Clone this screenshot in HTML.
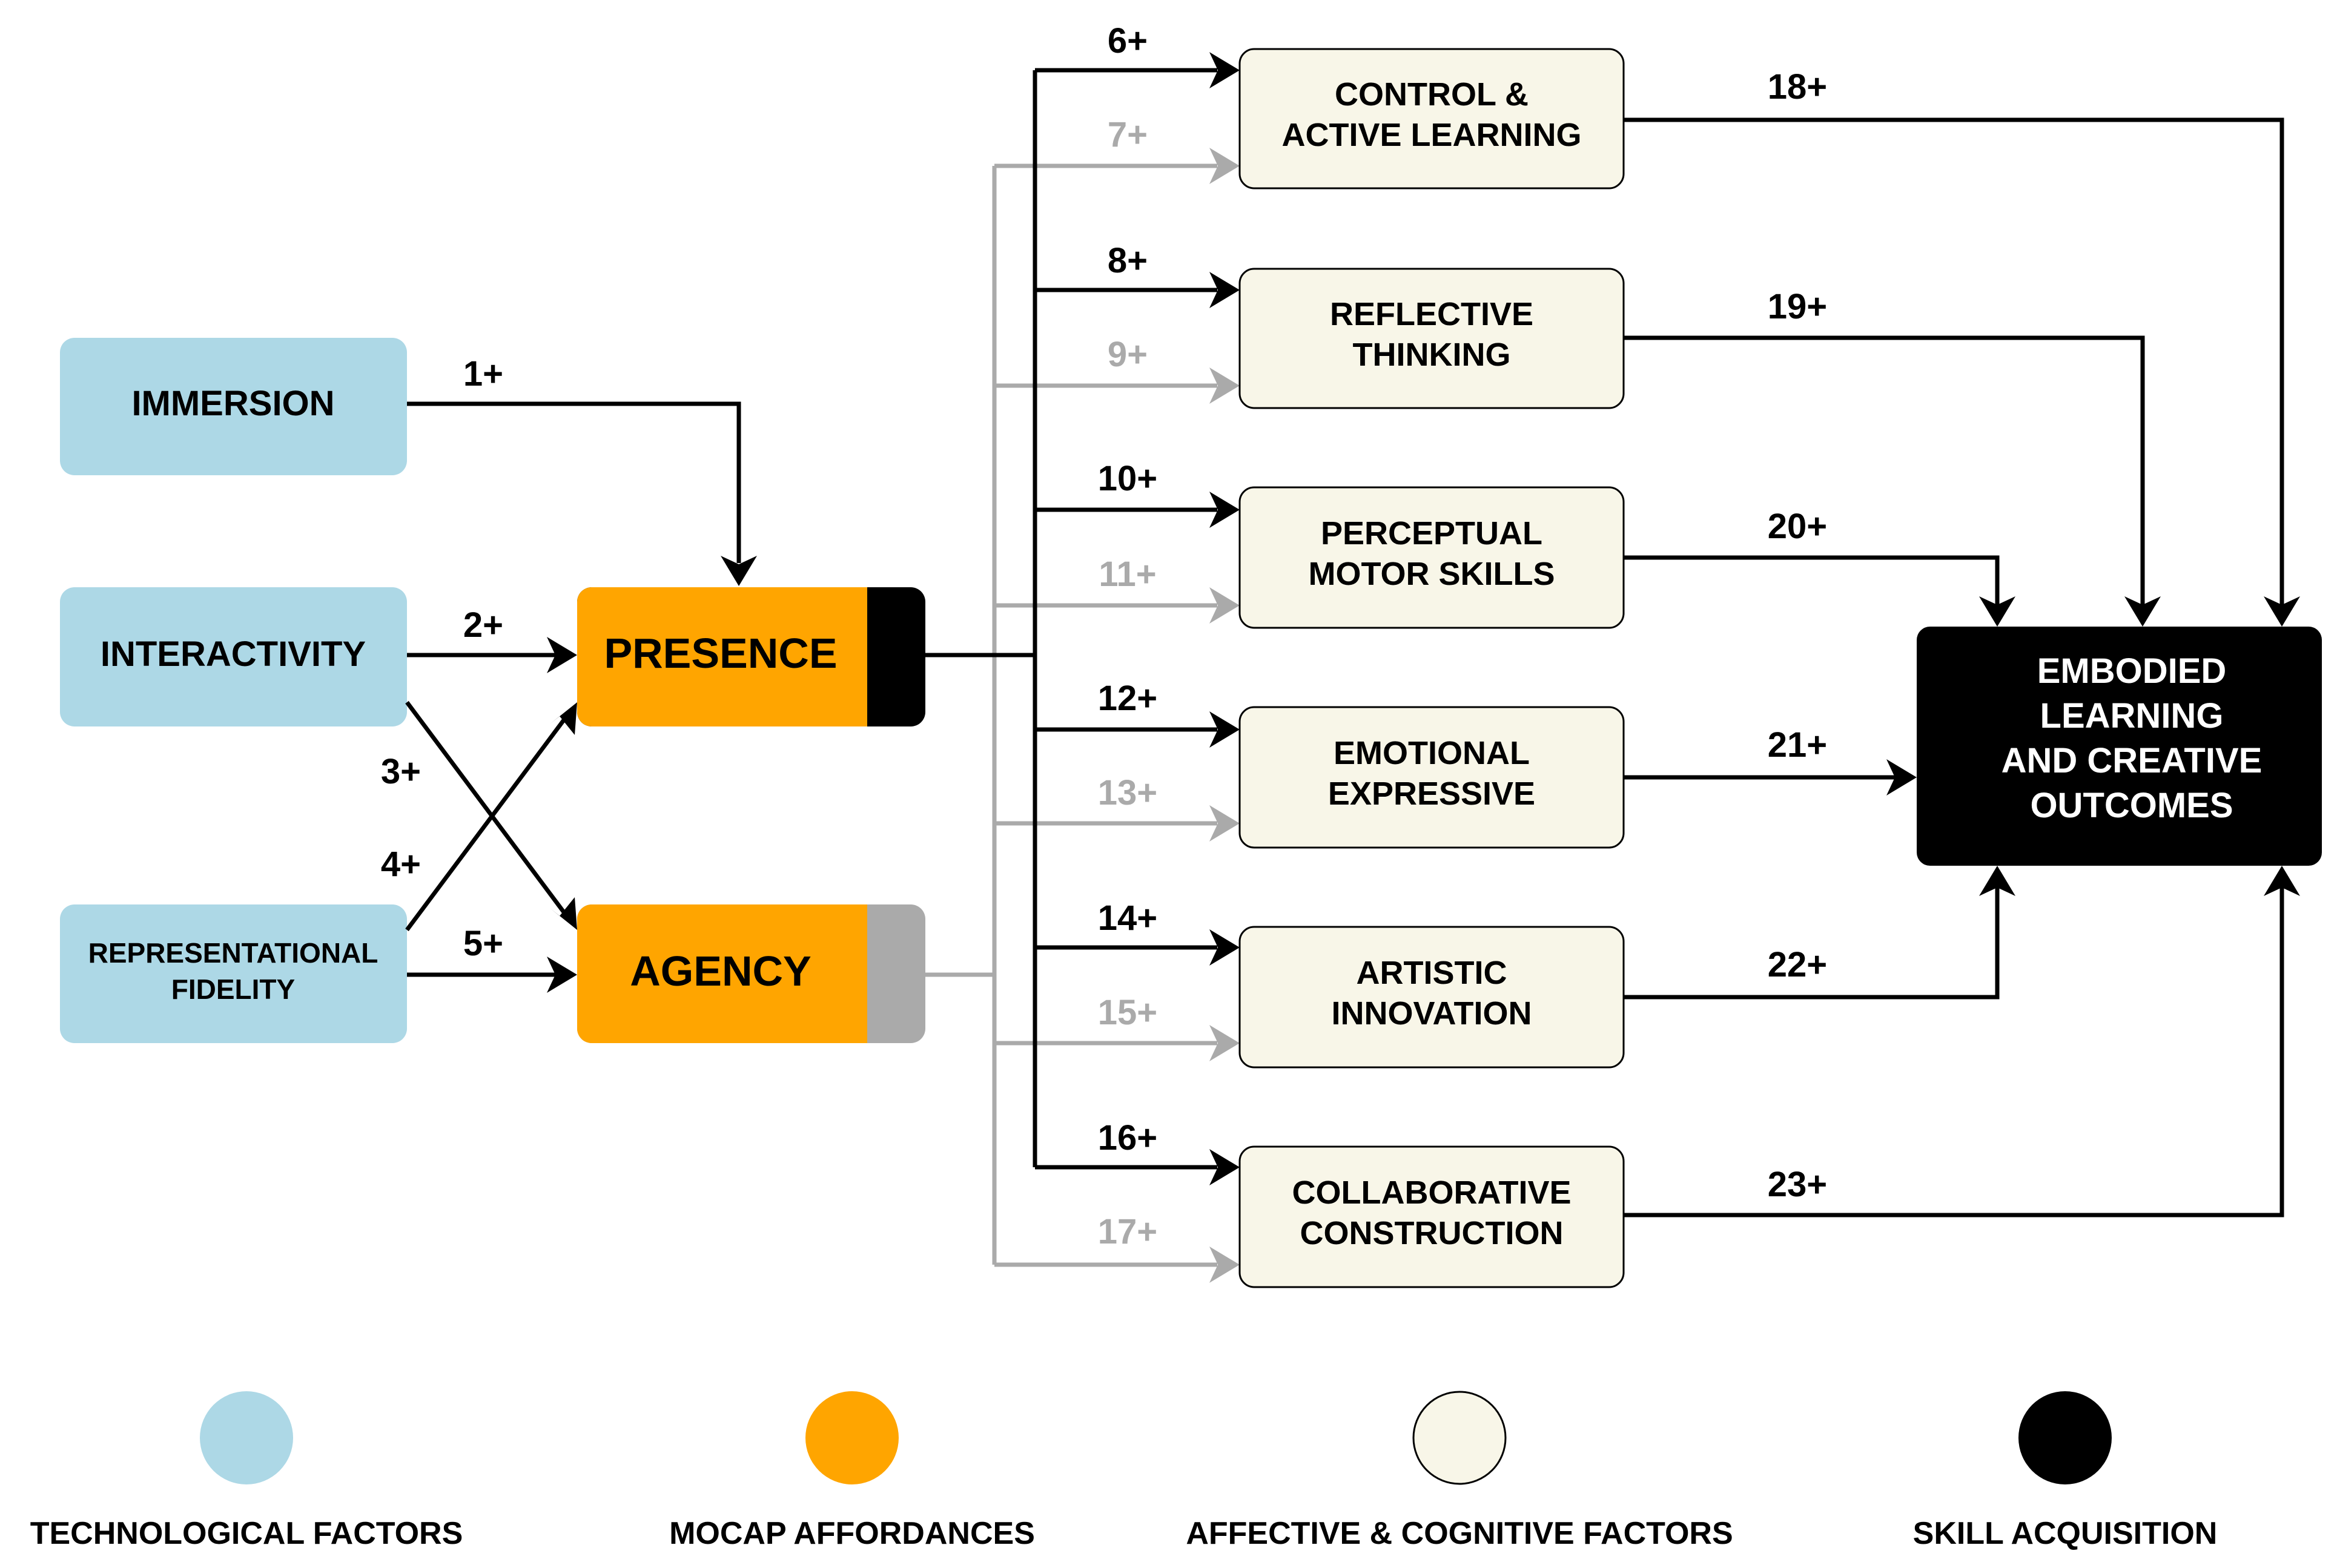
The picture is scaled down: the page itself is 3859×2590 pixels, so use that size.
<!DOCTYPE html>
<html><head><meta charset="utf-8"><style>
html,body{margin:0;padding:0;background:#fff;}
svg{display:block;}
text{font-family:"Liberation Sans",Arial,sans-serif;font-weight:bold;}
</style></head><body>
<svg width="3859" height="2590" viewBox="0 0 3859 2590" xmlns="http://www.w3.org/2000/svg">
<defs>
<marker id="ab" markerWidth="10" markerHeight="10" refX="9" refY="5" orient="auto" markerUnits="userSpaceOnUse" viewBox="0 0 10 10" style="overflow:visible">
</marker>
</defs>
<g id="arrowdefs"></g>
<!-- left boxes -->
<rect x="99" y="558" width="573" height="227" rx="24" fill="#add8e6"/>
<rect x="99" y="970" width="573" height="230" rx="24" fill="#add8e6"/>
<rect x="99" y="1494" width="573" height="229" rx="24" fill="#add8e6"/>
<text x="385" y="686" font-size="58" text-anchor="middle">IMMERSION</text>
<text x="385" y="1100" font-size="58" text-anchor="middle">INTERACTIVITY</text>
<text x="385" y="1590" font-size="46" text-anchor="middle">REPRESENTATIONAL</text>
<text x="385" y="1650" font-size="46" text-anchor="middle">FIDELITY</text>
<!-- presence / agency -->
<rect x="953" y="970" width="575" height="230" rx="24" fill="#000"/>
<rect x="953" y="970" width="479" height="230" rx="24" fill="#ffa500"/>
<rect x="1400" y="970" width="32" height="230" fill="#ffa500"/>
<rect x="953" y="1494" width="575" height="229" rx="24" fill="#aaa"/>
<rect x="953" y="1494" width="479" height="229" rx="24" fill="#ffa500"/>
<rect x="1400" y="1494" width="32" height="229" fill="#ffa500"/>
<text x="1190" y="1103" font-size="70" text-anchor="middle">PRESENCE</text>
<text x="1190" y="1628" font-size="70" text-anchor="middle">AGENCY</text>
<!-- left connectors -->
<g stroke="#000" stroke-width="7" fill="none">
<polyline points="672,667 1220,667 1220,930"/>
<line x1="672" y1="1082" x2="920" y2="1082"/>
<line x1="672" y1="1610" x2="920" y2="1610"/>
<line x1="672" y1="1160" x2="935" y2="1512"/>
<line x1="672" y1="1536" x2="935" y2="1184"/>
</g>
<g fill="#000">
<polygon points="1220,968 1190,918 1220,932 1250,918"/>
<polygon points="953,1082 903,1052 917,1082 903,1112"/>
<polygon points="953,1610 903,1580 917,1610 903,1640"/>
<polygon points="953,1536 908,1500 924,1513 949,1482" />
<polygon points="953,1160 949,1214 924,1183 908,1196" />
</g>
<g font-size="58">
<text x="798" y="637" text-anchor="middle">1+</text>
<text x="798" y="1052" text-anchor="middle">2+</text>
<text x="662" y="1294" text-anchor="middle">3+</text>
<text x="662" y="1447" text-anchor="middle">4+</text>
<text x="798" y="1578" text-anchor="middle">5+</text>
</g>
<!-- trunks -->
<g stroke="#aaa" stroke-width="7" fill="none">
<polyline points="1528,1610 1642,1610"/>
<line x1="1642" y1="274" x2="1642" y2="2089"/>
<line x1="1642" y1="274" x2="2010" y2="274"/>
<line x1="1642" y1="637" x2="2010" y2="637"/>
<line x1="1642" y1="1000" x2="2010" y2="1000"/>
<line x1="1642" y1="1360" x2="2010" y2="1360"/>
<line x1="1642" y1="1723" x2="2010" y2="1723"/>
<line x1="1642" y1="2089" x2="2010" y2="2089"/>
</g>
<g fill="#aaa">
<polygon points="2047,274 1997,244 2011,274 1997,304"/>
<polygon points="2047,637 1997,607 2011,637 1997,667"/>
<polygon points="2047,1000 1997,970 2011,1000 1997,1030"/>
<polygon points="2047,1360 1997,1330 2011,1360 1997,1390"/>
<polygon points="2047,1723 1997,1693 2011,1723 1997,1753"/>
<polygon points="2047,2089 1997,2059 2011,2089 1997,2119"/>
</g>
<g stroke="#000" stroke-width="7" fill="none">
<line x1="1528" y1="1082" x2="1709" y2="1082"/>
<line x1="1709" y1="116" x2="1709" y2="1928"/>
<line x1="1709" y1="116" x2="2010" y2="116"/>
<line x1="1709" y1="479" x2="2010" y2="479"/>
<line x1="1709" y1="842" x2="2010" y2="842"/>
<line x1="1709" y1="1205" x2="2010" y2="1205"/>
<line x1="1709" y1="1565" x2="2010" y2="1565"/>
<line x1="1709" y1="1928" x2="2010" y2="1928"/>
</g>
<g fill="#000">
<polygon points="2047,116 1997,86 2011,116 1997,146"/>
<polygon points="2047,479 1997,449 2011,479 1997,509"/>
<polygon points="2047,842 1997,812 2011,842 1997,872"/>
<polygon points="2047,1205 1997,1175 2011,1205 1997,1235"/>
<polygon points="2047,1565 1997,1535 2011,1565 1997,1595"/>
<polygon points="2047,1928 1997,1898 2011,1928 1997,1958"/>
</g>
<g font-size="58" text-anchor="middle">
<text x="1862" y="87">6+</text>
<text x="1862" y="450">8+</text>
<text x="1862" y="810">10+</text>
<text x="1862" y="1173">12+</text>
<text x="1862" y="1536">14+</text>
<text x="1862" y="1899">16+</text>
</g>
<g font-size="58" text-anchor="middle" fill="#aaa">
<text x="1862" y="242">7+</text>
<text x="1862" y="605">9+</text>
<text x="1862" y="968">11+</text>
<text x="1862" y="1329">13+</text>
<text x="1862" y="1692">15+</text>
<text x="1862" y="2054">17+</text>
</g>
<!-- right boxes -->
<g fill="#f8f6e8" stroke="#000" stroke-width="3">
<rect x="2047" y="81" width="634" height="230" rx="24"/>
<rect x="2047" y="444" width="634" height="230" rx="24"/>
<rect x="2047" y="805" width="634" height="232" rx="24"/>
<rect x="2047" y="1168" width="634" height="232" rx="24"/>
<rect x="2047" y="1531" width="634" height="232" rx="24"/>
<rect x="2047" y="1894" width="634" height="232" rx="24"/>
</g>
<g font-size="54" text-anchor="middle">
<text x="2364" y="174">CONTROL &amp;</text><text x="2364" y="241">ACTIVE LEARNING</text>
<text x="2364" y="537">REFLECTIVE</text><text x="2364" y="604">THINKING</text>
<text x="2364" y="899">PERCEPTUAL</text><text x="2364" y="966">MOTOR SKILLS</text>
<text x="2364" y="1262">EMOTIONAL</text><text x="2364" y="1329">EXPRESSIVE</text>
<text x="2364" y="1625">ARTISTIC</text><text x="2364" y="1692">INNOVATION</text>
<text x="2364" y="1988">COLLABORATIVE</text><text x="2364" y="2055">CONSTRUCTION</text>
</g>
<!-- embodied -->
<rect x="3165" y="1035" width="669" height="395" rx="22" fill="#000"/>
<g font-size="58" text-anchor="middle" fill="#fff">
<text x="3520" y="1128">EMBODIED</text>
<text x="3520" y="1202">LEARNING</text>
<text x="3520" y="1276">AND CREATIVE</text>
<text x="3520" y="1350">OUTCOMES</text>
</g>
<g stroke="#000" stroke-width="7" fill="none">
<polyline points="2681,198 3768,198 3768,1000"/>
<polyline points="2681,558 3538,558 3538,1000"/>
<polyline points="2681,921 3298,921 3298,1000"/>
<line x1="2681" y1="1284" x2="3130" y2="1284"/>
<polyline points="2681,1647 3298,1647 3298,1465"/>
<polyline points="2681,2007 3768,2007 3768,1465"/>
</g>
<g fill="#000">
<polygon points="3768,1035 3738,985 3768,999 3798,985"/>
<polygon points="3538,1035 3508,985 3538,999 3568,985"/>
<polygon points="3298,1035 3268,985 3298,999 3328,985"/>
<polygon points="3165,1284 3115,1254 3129,1284 3115,1314"/>
<polygon points="3298,1430 3268,1480 3298,1466 3328,1480"/>
<polygon points="3768,1430 3738,1480 3768,1466 3798,1480"/>
</g>
<g font-size="58" text-anchor="middle">
<text x="2968" y="163">18+</text>
<text x="2968" y="526">19+</text>
<text x="2968" y="889">20+</text>
<text x="2968" y="1250">21+</text>
<text x="2968" y="1613">22+</text>
<text x="2968" y="1976">23+</text>
</g>
<!-- legend -->
<circle cx="407" cy="2375" r="77" fill="#add8e6"/>
<circle cx="1407" cy="2375" r="77" fill="#ffa500"/>
<circle cx="2410" cy="2375" r="76" fill="#f8f6e8" stroke="#000" stroke-width="3"/>
<circle cx="3410" cy="2375" r="77" fill="#000"/>
<g font-size="52" text-anchor="middle">
<text x="407" y="2550">TECHNOLOGICAL FACTORS</text>
<text x="1407" y="2550">MOCAP AFFORDANCES</text>
<text x="2410" y="2550">AFFECTIVE &amp; COGNITIVE FACTORS</text>
<text x="3410" y="2550">SKILL ACQUISITION</text>
</g>
</svg>
</body></html>
